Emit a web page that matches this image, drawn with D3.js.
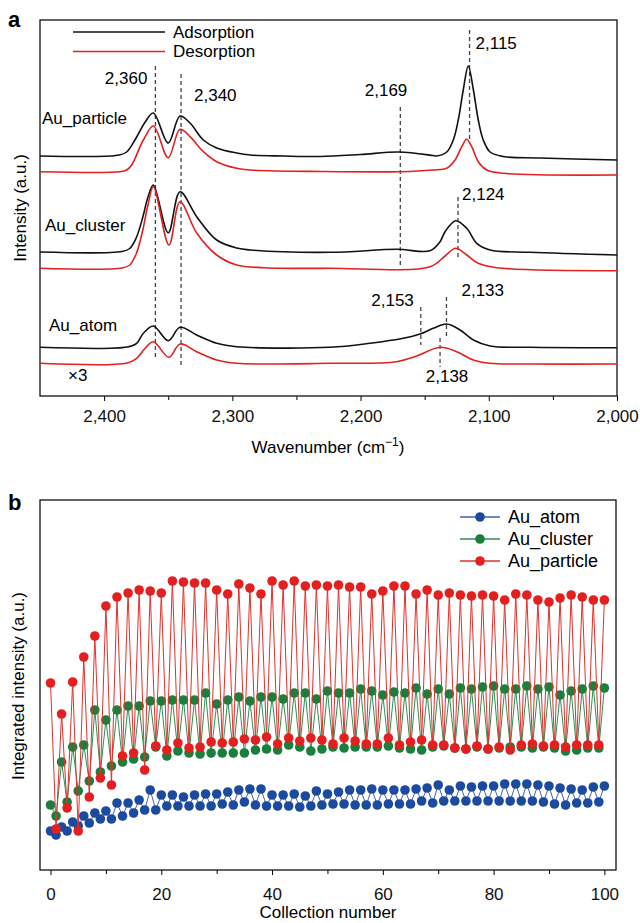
<!DOCTYPE html>
<html>
<head>
<meta charset="utf-8">
<script src="https://cdn.jsdelivr.net/npm/d3@7"></script>
<style>
  body { margin: 0; background: #fff; }
  svg { font-family: "Liberation Sans", Arial, sans-serif; }
</style>
</head>
<body>
<svg id="chart" width="640" height="923"></svg>
<script>
// ---- panel a data: spectra as [wavenumber, intensity] ----
var particleAds = [[2450,240],[2388,241],[2382.4,244],[2374.6,259],[2368,274],[2361.6,283],[2350,253],[2340.8,280],
  [2333,273],[2322.6,256],[2312.2,248],[2296.6,243],[2286,241],[2260,240],[2231.6,239.5],[2200,241.5],[2170,244],
  [2143.5,240.5],[2140.6,240],[2132.8,244],[2127.7,256],[2123.8,276],[2119.9,306],[2116,330],[2112,306],[2108.2,276],
  [2104.3,256],[2099,244],[2088.7,239.5],[2060,238],[2000,236]];
var particleDes = [[2450,224.3],[2387.6,224.3],[2382.4,226],[2378.5,231],[2369.4,256],[2361.6,270],[2350,238.3],
  [2340.8,266.7],[2333,259.3],[2322.6,244.3],[2312.2,234.3],[2296.6,227.7],[2286,226],[2230,224.5],[2169,224.3],
  [2143.5,226],[2132.8,227.7],[2126.3,236],[2121.1,249.3],[2117.2,256.7],[2113.3,249.3],[2108.2,234.3],[2101.6,226],
  [2088.7,222.7],[2000,221]];
var clusterAds = [[2450,144],[2386,144.5],[2380,147.5],[2375,158],[2370,178],[2366,198],[2361.6,211],[2350,163.3],
  [2340.8,204.3],[2327.8,179.3],[2312.2,156],[2296.6,148],[2286,146],[2223.8,143.7],[2171.8,146.7],[2145.8,145.3],
  [2138,154.3],[2134.1,164.3],[2125.8,175.3],[2117.2,167.7],[2109.4,152.7],[2099,146],[2067.8,143.7],[2000,141]];
var clusterDes = [[2450,127.7],[2386,128],[2380,131],[2375,142],[2370,165],[2366,190],[2361.6,209.3],[2349.4,151],
  [2340.8,194.3],[2327.8,163],[2312.2,141],[2296.6,131],[2275,128.3],[2223.8,127.7],[2145.8,129.3],[2134.1,140],
  [2125.8,147.7],[2117.2,141],[2108.2,132.7],[2093.8,128.3],[2000,125.3]];
var atomAds = [[2450,48.7],[2382,49],[2374.6,52.7],[2369.4,62.7],[2361.6,70],[2350,55.3],[2340.8,68.7],[2327.8,61],
  [2312.2,52.7],[2296.6,49.3],[2223.8,48.7],[2192.6,52.7],[2166.7,57.7],[2153.6,62],[2143.3,67.7],[2132.8,72],
  [2122.4,66],[2112,56],[2099,50],[2067.8,48.7],[2000,48.3]];
var atomDes = [[2450,32.7],[2382,33],[2374.6,37.7],[2368,47.7],[2361.6,54.3],[2349.4,38.7],[2340.8,52],[2327.8,44.3],
  [2312.2,36],[2296.6,32.7],[2223.8,32.7],[2171.8,34.3],[2156.2,40],[2138,48.7],[2125,44.3],[2112,36],[2099,32.7],
  [2067.8,32],[2000,32]];
var spectraNames = ['Au_particle', 'Au_cluster', 'Au_atom'];
var peakLabels = [2360, 2340, 2169, 2115, 2124, 2153, 2133, 2138];
var wavenumberTicks = [2400, 2300, 2200, 2100, 2000];
var wavenumberMinor = [2350, 2250, 2150, 2050];

// ---- panel b data: integrated intensity per collection (0..100) ----
var atomInt = [39,35,43,39,48,44,54,47,57,51,59,51,67,54,67,57,70,60,80,60,75,64,75,64,73,64,75,64,76,64,
  76,66,78,65,80,68,81,65,81,64,75,64,75,64,76,63,74,64,79,65,76,66,78,66,80,65,80,65,81,65,
  80,66,80,66,80,66,81,69,82,67,85,69,80,69,84,69,83,69,84,69,84,69,86,69,86,69,86,69,85,68,
  84,66,82,65,81,67,80,67,83,68,84];
var clusterInt = [65,54,108,68,123,79,125,89,160,98,150,104,160,108,164,111,164,113,169,123,169,114,170,119,170,117,
  170,116,177,117,166,117,170,117,173,117,169,120,173,121,173,120,171,125,177,123,177,119,171,121,
  179,123,177,122,177,123,181,123,179,123,175,124,178,122,177,121,182,120,176,123,181,124,176,122,
  182,121,181,123,183,121,184,122,181,123,181,123,184,122,181,123,183,122,175,119,179,120,181,122,
  184,122,182];
var particleInt = [187,41,156,62,188,39,213,73,234,92,264,85,273,114,277,117,280,100,279,124,277,120,289,127,288,122,
  287,123,287,128,280,127,276,128,286,131,282,130,276,133,289,126,285,132,289,129,284,132,285,130,
  284,126,285,132,283,129,283,126,276,126,279,132,284,125,284,128,276,130,280,125,275,125,277,122,
  275,121,274,124,275,121,274,123,270,120,276,125,275,126,270,124,268,125,272,123,275,125,273,125,
  270,125,270];
var seriesNames = ['Au_atom', 'Au_cluster', 'Au_particle'];
var collectionTicks = [0, 20, 40, 60, 80, 100];
var collectionMinor = [10, 30, 50, 70, 90];

var black = '#111111', red = '#e3201f';
var seriesColors = ['#1c4a9f', '#1a7f3c', '#e3201f'];
var lineColors = ['#3f64ad', '#2f8f50', '#e3302b'];

var svg = d3.select('#chart');

// ================= panel a =================
var xa = d3.scaleLinear().domain([2450, 2000]).range([40, 617]);
var ya = d3.scaleLinear().domain([0, 376]).range([396, 20]);

var pa = svg.append('g');

// axis ticks
pa.append('g')
    .attr('transform', 'translate(0,396)')
    .call(d3.axisBottom(xa).tickValues(wavenumberTicks).tickFormat(d3.format(',')).tickSize(5).tickPadding(9))
    .call(g => g.select('.domain').remove())
    .call(g => g.selectAll('text').attr('font-size', 17).attr('fill', '#111'));
pa.append('g')
    .attr('transform', 'translate(0,396)')
    .call(d3.axisBottom(xa).tickValues(wavenumberMinor).tickFormat('').tickSize(4))
    .call(g => g.select('.domain').remove());

// frame
pa.append('rect').attr('x', 40).attr('y', 20).attr('width', 577).attr('height', 376)
    .attr('fill', 'none').attr('stroke', '#111').attr('stroke-width', 1.3);

// dashed peak markers (extent in intensity units)
var peakExtent = {2360: [330, 37], 2340: [322, 30], 2169: [289, 129], 2115: [366, 253],
                  2124: [199, 138], 2153: [89, 51], 2133: [99, 58], 2138: [58, 29]};
pa.append('g').selectAll('line')
    .data(peakLabels)
  .enter().append('line')
    .attr('x1', d => xa(d)).attr('x2', d => xa(d))
    .attr('y1', d => ya(peakExtent[d][0])).attr('y2', d => ya(peakExtent[d][1]))
    .attr('stroke', '#444').attr('stroke-width', 1.3).attr('stroke-dasharray', '4,3');

// spectra
var line = d3.line().x(d => xa(d[0])).y(d => ya(d[1])).curve(d3.curveCatmullRom.alpha(0.5));
var spectra = [[particleAds, black], [particleDes, red], [clusterAds, black], [clusterDes, red], [atomAds, black], [atomDes, red]];
pa.append('g').selectAll('path')
    .data(spectra)
  .enter().append('path')
    .attr('d', d => line(d[0]))
    .attr('fill', 'none')
    .attr('stroke', d => d[1])
    .attr('stroke-width', 1.6);

// peak labels: [dx from line, baseline y, anchor]
var labelPos = {2360: [-8, 84, 'end'], 2340: [13, 101, 'start'], 2169: [7, 96, 'end'], 2115: [6, 49, 'start'],
                2124: [4, 200, 'start'], 2153: [-7, 306, 'end'], 2133: [15, 296, 'start'], 2138: [7, 382, 'middle']};
pa.append('g').selectAll('text')
    .data(peakLabels)
  .enter().append('text')
    .attr('x', d => xa(d) + labelPos[d][0])
    .attr('y', d => labelPos[d][1])
    .attr('text-anchor', d => labelPos[d][2])
    .attr('font-size', 17)
    .text(d => d3.format(',')(d));

// sample names
var nameY = [124, 231, 331];
var nameX = [42, 45, 49];
pa.append('g').selectAll('text')
    .data(spectraNames)
  .enter().append('text')
    .attr('x', (d, i) => nameX[i]).attr('y', (d, i) => nameY[i])
    .attr('font-size', 17)
    .text(d => d);
pa.append('text').attr('x', 68).attr('y', 381).attr('font-size', 17).text('\u00d73');

// legend
var legA = [['Adsorption', black], ['Desorption', red]];
var la = pa.append('g').selectAll('g').data(legA).enter().append('g')
    .attr('transform', (d, i) => `translate(0, ${32 + i * 19.5})`);
la.append('line').attr('x1', 73).attr('x2', 165).attr('stroke', d => d[1]).attr('stroke-width', 1.6);
la.append('text').attr('x', 173).attr('dy', '0.35em').attr('font-size', 17).text(d => d[0]);

// axis titles
var xt = pa.append('text').attr('x', 328).attr('y', 453).attr('text-anchor', 'middle').attr('font-size', 17);
xt.append('tspan').text('Wavenumber (cm');
xt.append('tspan').attr('dy', -7).attr('font-size', 12).text('\u22121');
xt.append('tspan').attr('dy', 7).text(')');
pa.append('text')
    .attr('transform', 'translate(26,208) rotate(-90)')
    .attr('text-anchor', 'middle').attr('font-size', 17)
    .text('Intensity (a.u.)');
pa.append('text').attr('x', 8).attr('y', 27).attr('font-size', 22).attr('font-weight', 'bold').text('a');

// ================= panel b =================
var xb = d3.scaleLinear().domain([-1.9, 102.1]).range([40, 616]);
var yb = d3.scaleLinear().domain([0, 370]).range([870, 500]);

var pb = svg.append('g');
pb.append('g')
    .attr('transform', 'translate(0,870)')
    .call(d3.axisBottom(xb).tickValues(collectionTicks).tickSize(5).tickPadding(13))
    .call(g => g.select('.domain').remove())
    .call(g => g.selectAll('text').attr('font-size', 17).attr('fill', '#111'));
pb.append('g')
    .attr('transform', 'translate(0,870)')
    .call(d3.axisBottom(xb).tickValues(collectionMinor).tickFormat('').tickSize(4))
    .call(g => g.select('.domain').remove());

pb.append('rect').attr('x', 40).attr('y', 500).attr('width', 576).attr('height', 370)
    .attr('fill', 'none').attr('stroke', '#111').attr('stroke-width', 1.3);

var series = [atomInt, clusterInt, particleInt];
var lineB = d3.line().x((d, i) => xb(i)).y(d => yb(d));
series.forEach(function(vals, k){
  var g = pb.append('g');
  g.append('path')
      .attr('d', lineB(vals))
      .attr('fill', 'none')
      .attr('stroke', lineColors[k])
      .attr('stroke-width', 1);
  g.selectAll('circle')
      .data(vals)
    .enter().append('circle')
      .attr('cx', (d, i) => xb(i))
      .attr('cy', d => yb(d))
      .attr('r', 4.8)
      .attr('fill', seriesColors[k]);
});

// legend b
var lb = pb.append('g').selectAll('g').data(seriesNames).enter().append('g')
    .attr('transform', (d, i) => `translate(0, ${517 + i * 22})`);
lb.append('line').attr('x1', 460).attr('x2', 500).attr('stroke', (d, i) => lineColors[i]).attr('stroke-width', 1.5);
lb.append('circle').attr('cx', 480).attr('r', 4.8).attr('fill', (d, i) => seriesColors[i]);
lb.append('text').attr('x', 508).attr('dy', '0.35em').attr('font-size', 18).text(d => d);

pb.append('text').attr('x', 328).attr('y', 918).attr('text-anchor', 'middle').attr('font-size', 17)
    .text('Collection number');
pb.append('text')
    .attr('transform', 'translate(24,686) rotate(-90)')
    .attr('text-anchor', 'middle').attr('font-size', 17)
    .text('Integrated intensity (a.u.)');
pb.append('text').attr('x', 8).attr('y', 510).attr('font-size', 22).attr('font-weight', 'bold').text('b');
</script>
</body>
</html>
